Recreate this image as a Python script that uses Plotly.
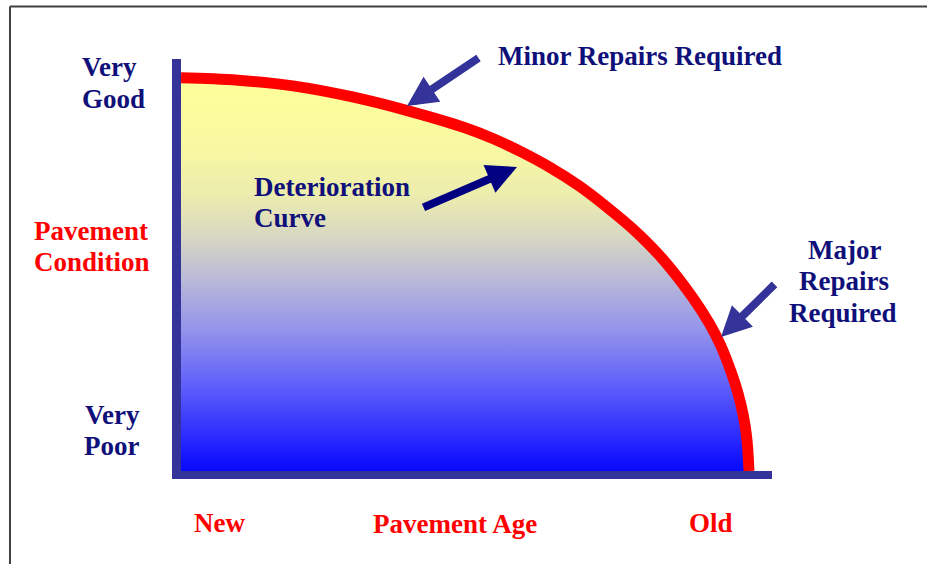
import plotly.graph_objects as go

# ---- data ----
pavement_age = [0, 10, 20, 30, 40, 50, 55, 60, 65, 70, 75, 80, 85, 90, 93, 95, 97, 98, 99, 99.6, 100]
pavement_condition = [100, 99.4, 97.9, 95.2, 91.6, 87.3, 84.5, 81.1, 77.2, 72.6, 67.1, 61.0,
                      53.6, 44.3, 37.6, 32.0, 24.6, 20.1, 14.1, 8.5, 0]

condition_labels = [["Very", "Good"], ["Very", "Poor"]]
age_labels = ["New", "Old"]
y_title = ["Pavement", "Condition"]
x_title = "Pavement Age"
minor_text = "Minor Repairs Required"
curve_text = ["Deterioration", "Curve"]
major_text = ["Major", "Repairs", "Required"]

# ---- layout geometry ----
W, H = 927, 564
ML, MR, MT, MB = 181, 155, 59, 93
PW, PH = W - ML - MR, H - MT - MB

NAVY = "#10107a"
RED = "#ff0000"
AXIS = "#333399"
FONT = "Liberation Serif"
FS = 27


def px(xp):
    return (xp - ML) / PW


def py(yp):
    return (H - MB - yp) / PH


fig = go.Figure()
fig.add_trace(go.Scatter(
    x=pavement_age, y=pavement_condition,
    mode="lines",
    line=dict(color=RED, width=11, shape="spline", smoothing=1.0),
    fill="tozeroy",
    fillgradient=dict(
        type="vertical", start=0, stop=100,
        colorscale=[
            [0.0, "#0808ff"], [0.1, "#3030ff"], [0.23, "#6464fa"],
            [0.36, "#9494eb"], [0.49, "#babad8"], [0.6, "#d8d8c2"],
            [0.7, "#ececae"], [0.82, "#f8f8a2"], [1.0, "#ffff99"],
        ],
    ),
    hoverinfo="skip",
    showlegend=False,
))


def label(text, xp, yp, color, xanchor="center"):
    fig.add_annotation(
        text=f"<b>{text}</b>", xref="paper", yref="paper",
        x=px(xp), y=py(yp), xanchor=xanchor, yanchor="middle",
        showarrow=False, font=dict(family=FONT, size=FS, color=color),
    )


label(condition_labels[0][0], 80, 67, NAVY, "left")
label(condition_labels[0][1], 80, 99, NAVY, "left")
label(y_title[0], 91, 231, RED)
label(y_title[1], 92, 262, RED)
label(condition_labels[1][0], 112, 415, NAVY)
label(condition_labels[1][1], 111, 446, NAVY)
label(age_labels[0], 219, 523, RED)
label(x_title, 455, 524, RED)
label(age_labels[1], 711, 523, RED)
label(minor_text, 640, 56, NAVY)
label(curve_text[0], 252, 187, NAVY, "left")
label(curve_text[1], 252, 218, NAVY, "left")
label(major_text[0], 844, 250, NAVY)
label(major_text[1], 844, 281, NAVY)
label(major_text[2], 843, 313, NAVY)


def arrow(tip, tail, color):
    fig.add_annotation(
        text="", xref="paper", yref="paper",
        x=px(tip[0]), y=py(tip[1]),
        axref="pixel", ayref="pixel",
        ax=tail[0] - tip[0], ay=tail[1] - tip[1],
        showarrow=True, arrowhead=2, arrowsize=0.75, arrowwidth=8,
        arrowcolor=color, standoff=0,
    )


arrow((407, 106), (480, 57), AXIS)
arrow((517, 167), (422, 208), "#000080")
arrow((721, 337), (776, 283), AXIS)

# border (top and left edges of the framed picture)
fig.add_shape(type="line", xref="paper", yref="paper",
              x0=px(10), x1=px(940), y0=py(6.5), y1=py(6.5),
              line=dict(color="#404040", width=2))
fig.add_shape(type="line", xref="paper", yref="paper",
              x0=px(10), x1=px(10), y0=py(6.5), y1=py(580),
              line=dict(color="#404040", width=2))

fig.update_layout(
    width=W, height=H,
    margin=dict(l=ML, r=MR, t=MT, b=MB, pad=0),
    paper_bgcolor="white", plot_bgcolor="white",
    xaxis=dict(range=[0, 104.05], showline=True, linewidth=8, linecolor=AXIS,
               showgrid=False, zeroline=False, showticklabels=False, ticks="",
               fixedrange=True),
    yaxis=dict(range=[0, 104.8], showline=True, linewidth=9, linecolor=AXIS,
               showgrid=False, zeroline=False, showticklabels=False, ticks="",
               fixedrange=True),
)

fig.write_html(
    "out.html",
    config={"displayModeBar": False},
    post_script="document.body.style.margin='0';document.body.style.overflow='hidden';",
)
